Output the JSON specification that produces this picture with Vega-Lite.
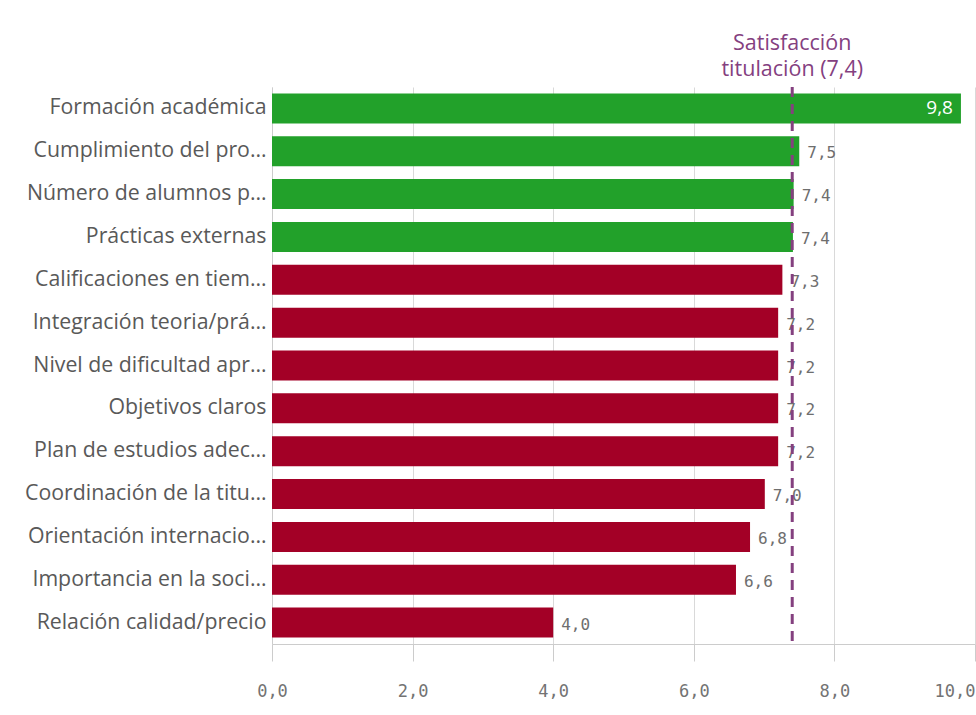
{
  "$schema": "https://vega.github.io/schema/vega-lite/v6.json",
  "width": 703,
  "height": 557,
  "autosize": "none",
  "padding": {"left": 272, "top": 87, "right": 1, "bottom": 71},
  "background": "white",
  "config": {
    "view": {"stroke": null},
    "locale": {"number": {"decimal": ",", "thousands": ".", "grouping": [3], "currency": ["", " €"]}}
  },
  "datasets": {
    "items": [
      {"item": "Formación académica", "valor": 9.8},
      {"item": "Cumplimiento del pro…", "valor": 7.5},
      {"item": "Número de alumnos p…", "valor": 7.42},
      {"item": "Prácticas externas", "valor": 7.41},
      {"item": "Calificaciones en tiem…", "valor": 7.26},
      {"item": "Integración teoria/prá…", "valor": 7.2},
      {"item": "Nivel de dificultad apr…", "valor": 7.2},
      {"item": "Objetivos claros", "valor": 7.2},
      {"item": "Plan de estudios adec…", "valor": 7.2},
      {"item": "Coordinación de la titu…", "valor": 7.01},
      {"item": "Orientación internacio…", "valor": 6.8},
      {"item": "Importancia en la soci…", "valor": 6.6},
      {"item": "Relación calidad/precio", "valor": 4.0}
    ],
    "referencia": [
      {"ref": 7.4, "texto": ["Satisfacción", "titulación (7,4)"]}
    ]
  },
  "data": {"name": "items"},
  "layer": [
    {
      "mark": {"type": "bar"},
      "encoding": {
        "y": {
          "field": "item", "type": "nominal", "sort": null,
          "scale": {"paddingInner": 0.3, "paddingOuter": 0.15},
          "axis": {
            "title": null, "ticks": false, "domain": true, "domainColor": "#cccccc",
            "labelFont": "Open Sans", "labelFontSize": 21.3, "labelColor": "#595959",
            "labelLimit": 400, "labelPadding": 6
          }
        },
        "x": {
          "field": "valor", "type": "quantitative",
          "scale": {"domain": [0, 10], "nice": false},
          "axis": {
            "title": null, "values": [0, 2, 4, 6, 8, 10], "format": ".1f",
            "grid": true, "gridColor": "#d9d9d9",
            "domain": true, "domainColor": "#cccccc",
            "ticks": true, "tickColor": "#cccccc", "tickSize": 17,
            "labelFont": "DejaVu Sans Mono", "labelFontSize": 17, "labelColor": "#737373",
            "labelPadding": 22, "labelFlush": false,
            "labelAlign": {"condition": {"test": "datum.value >= 10", "value": "right"}, "value": "center"}
          }
        },
        "color": {
          "condition": {"test": "datum.valor >= 7.4", "value": "#22a12a"},
          "value": "#a30026"
        }
      }
    },
    {
      "transform": [{"filter": "datum.valor < 9"}],
      "mark": {"type": "text", "align": "left", "baseline": "middle", "dx": 8, "dy": 2, "font": "DejaVu Sans Mono", "fontSize": 16, "color": "#6e6e6e"},
      "encoding": {
        "y": {"field": "item", "type": "nominal", "sort": null},
        "x": {"field": "valor", "type": "quantitative"},
        "text": {"field": "valor", "type": "quantitative", "format": ".1f"}
      }
    },
    {
      "transform": [{"filter": "datum.valor >= 9"}],
      "mark": {"type": "text", "align": "right", "baseline": "middle", "dx": -8, "font": "Open Sans", "fontSize": 19, "color": "white"},
      "encoding": {
        "y": {"field": "item", "type": "nominal", "sort": null},
        "x": {"field": "valor", "type": "quantitative"},
        "text": {"field": "valor", "type": "quantitative", "format": ".1f"}
      }
    },
    {
      "data": {"name": "referencia"},
      "mark": {"type": "rule", "color": "#84407f", "strokeWidth": 3, "strokeDash": [10, 7]},
      "encoding": {
        "x": {"field": "ref", "type": "quantitative"}
      }
    },
    {
      "data": {"name": "referencia"},
      "mark": {"type": "text", "align": "center", "baseline": "bottom", "font": "Open Sans", "fontSize": 21.5, "lineHeight": 26, "color": "#84407f"},
      "encoding": {
        "x": {"field": "ref", "type": "quantitative"},
        "y": {"value": -32},
        "text": {"field": "texto"}
      }
    }
  ]
}
